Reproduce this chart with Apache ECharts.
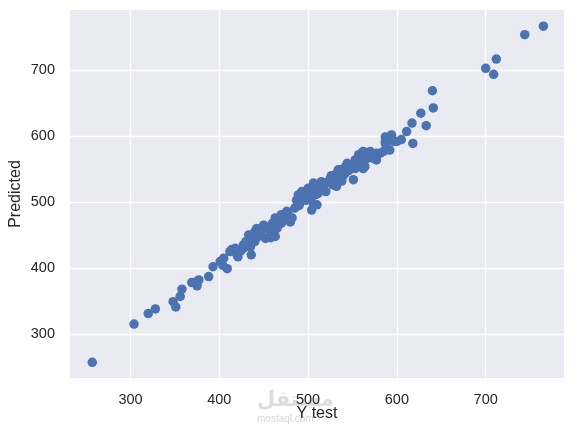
<!DOCTYPE html>
<html>
<head>
<meta charset="utf-8">
<script src="https://cdn.jsdelivr.net/npm/echarts@6/dist/echarts.min.js"></script>
<style>
html,body{margin:0;padding:0;background:#fff;}
#chart{width:575px;height:437px;}
</style>
</head>
<body>
<div id="chart"></div>
<script>
const yTest = [257,304,320,328,348,351,356,358,369,374,375,377,388,393,401,404,409,405,412,414,420,421,427,427,433,436,435,440,444,448,452,457,463,465,438,442,450,455,463,470,470,476,480,485,487,489,493,495,500,504,506,508,506,513,515,525,528,534,498,506,510,513,525,530,534,540,544,551,553,557,560,564,570,572,577,581,587,589,562,570,577,585,587,587,594,592,596,600,605,611,618,617,633,627,640,641,700,709,712,744,765,536,542,532,566,560,553,562,478,482,490,492,496,500,502,504,508,511,516,518,520,522,526,528,531,536,538,541,546,548,555,558,566,574,446,453,460,467,473,430,424,418,440,458];
const predicted = [257,315,331,338,349,341,357,368,378,379,373,382,387,402,410,404,399,415,425,428,420,417,430,435,450,420,432,440,448,458,445,455,448,460,448,460,465,460,476,481,468,486,470,491,503,511,516,503,521,488,529,511,496,521,531,534,526,539,503,526,496,518,536,529,549,541,559,534,551,572,564,554,577,567,564,574,589,580,577,569,574,577,599,592,602,579,592,592,595,607,589,620,616,635,669,643,703,694,717,754,767,549,544,524,572,574,564,551,480,476,495,505,510,506,515,508,520,513,522,528,516,530,540,532,542,544,532,552,548,556,556,562,566,572,452,462,468,472,478,440,426,430,455,446];
const xTicks = [300,400,500,600,700];
const yTicks = [300,400,500,600,700];
const xLabel = 'Y test';
const yLabel = 'Predicted';

const points = yTest.map((v,i)=>[v, predicted[i]]);
const chart = echarts.init(document.getElementById('chart'), null, {renderer:'canvas'});
const fontFam = '"Liberation Sans", Arial, sans-serif';
chart.setOption({
  animation:false,
  backgroundColor:'#ffffff',
  grid:{left:70, right:11, top:10, bottom:59, show:true, backgroundColor:'#EAEAF2', borderWidth:0, containLabel:false, outerBoundsMode:'none'},
  xAxis:{
    type:'value', min:231.9, max:788.2,
    name:xLabel, nameLocation:'middle', nameGap:28, nameMoveOverlap:false,
    nameTextStyle:{color:'#262626', fontSize:16, fontFamily:fontFam},
    axisLine:{show:false}, axisTick:{show:false, customValues:xTicks},
    axisLabel:{color:'#262626', fontSize:14.5, fontFamily:fontFam, margin:14, customValues:xTicks},
    splitLine:{show:true, lineStyle:{color:'#ffffff', width:1.3}, customValues:xTicks}
  },
  yAxis:{
    type:'value', min:233.2, max:791.5,
    name:yLabel, nameLocation:'middle', nameGap:46, nameRotate:90, nameMoveOverlap:false,
    nameTextStyle:{color:'#262626', fontSize:16, fontFamily:fontFam},
    axisLine:{show:false}, axisTick:{show:false, customValues:yTicks},
    axisLabel:{color:'#262626', fontSize:14.5, fontFamily:fontFam, margin:15, customValues:yTicks},
    splitLine:{show:true, lineStyle:{color:'#ffffff', width:1.3}, customValues:yTicks}
  },
  series:[{
    type:'scatter', data:points, symbol:'circle', symbolSize:9.5,
    itemStyle:{color:'#4C72B0', opacity:1}
  }],
  graphic:[
    {type:'text', left:257, top:390, style:{text:'مستقل', fill:'#dcdcdc', font:'bold 21px "Noto Sans", "DejaVu Sans", sans-serif'}, z:-1},
    {type:'text', left:257, top:414, style:{text:'mostaql.com', fill:'#d6d6d6', font:'10px "Liberation Sans", sans-serif'}, z:-1}
  ]
});
</script>
</body>
</html>
